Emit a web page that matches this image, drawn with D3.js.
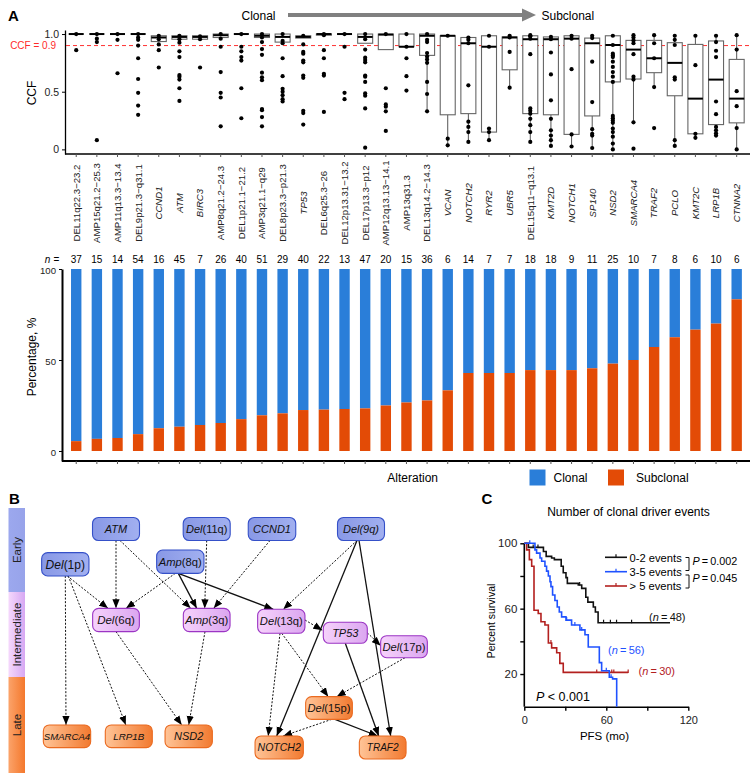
<!DOCTYPE html>
<html><head><meta charset="utf-8">
<script src="https://cdn.jsdelivr.net/npm/d3@7"></script>
<style>
body{margin:0;background:#fff}
svg{display:block;font-family:"Liberation Sans",Arial,Helvetica,sans-serif}
</style>
</head><body>
<svg id="chart" width="756" height="779"></svg>
<script>
// ---------------- DATA ----------------
const categories = ["DEL11q22.3\u221223.2","AMP15q21.2\u221225.3","AMP11q13.3\u221213.4","DEL9p21.3\u2212q31.1","CCND1","ATM","BIRC3","AMP8q21.2\u221224.3","DEL1p21.1\u221221.2","AMP3q21.1\u2212q29","DEL8p23.3\u2212p21.3","TP53","DEL6q25.3\u221226","DEL12p13.31\u221213.2","DEL17p13.3\u2212p12","AMP12q13.13\u221214.1","AMP13q31.3","DEL13q14.2\u221214.3","VCAN","NOTCH2","RYR2","UBR5","DEL15q11\u2212q13.1","KMT2D","NOTCH1","SP140","NSD2","SMARCA4","TRAF2","PCLO","KMT2C","LRP1B","CTNNA2"];
const nCounts = [37,15,14,54,16,45,7,26,40,51,29,40,22,13,47,20,15,36,6,14,7,7,18,18,9,11,25,10,7,8,6,10,6];
const subclonalCounts = [2,1,1,5,2,6,1,4,7,10,6,9,5,3,11,5,4,10,2,6,3,3,8,8,4,5,12,5,4,5,4,7,5];

const boxQ1     = [1,1,1,1,.935,.955,.955,.97,1,.97,.93,.965,.99,1,.92,.865,.89,.815,.30,.31,.15,.69,.31,.30,.13,.29,.585,.61,.665,.465,.135,.215,.23];
const boxMedian = [1,1,1,1,.97,.975,.975,.99,1,.985,.975,.975,1,1,.975,.995,.89,.985,.985,.92,.89,.97,.955,.955,.96,.92,.905,.865,.79,.75,.44,.605,.44];
const boxQ3     = [1,1,1,1,.985,.985,.985,1,1,1,1,.985,1,1,1,1,1,1,.985,.97,.985,.975,.985,.975,.985,.965,.985,.945,.945,.925,.91,.94,.78];
const whiskerLow  = [1,1,1,1,.935,.955,.955,.97,1,.97,.93,.965,.99,1,.92,.865,.89,.33,.035,.065,.08,.535,.065,.03,.025,.012,0,.235,.54,.03,.10,.12,0];
const whiskerHigh = [1,1,1,1,.985,.985,.985,1,1,1,1,.985,1,1,1,1,1,1,.985,.97,.985,.985,.99,.975,.985,.985,.985,.99,.99,.985,.985,.985,.99];
const ccfPoints = [
  [1,.86],
  [1,.96,.93,.08],
  [1,.95,.66],
  [1,.97,.95,.9,.79,.61,.49,.38,.3],
  [.985,.955,.91,.86,.71],
  [.985,.955,.925,.85,.8,.645,.63,.605,.53,.42],
  [.98,.955,.71],
  [1,.96,.89,.67,.49,.45,.2],
  [1,.89,.85,.8,.77,.53,.27],
  [1,.97,.93,.87,.82,.665,.625,.6,.35,.34,.28,.2],
  [1,.94,.92,.79,.635,.525,.5,.47,.435,.415],
  [.985,.91,.845,.83,.77,.755,.64,.62,.335,.315,.215],
  [1,.99,.86,.79,.655,.64,.325],
  [1,.89,.49,.435],
  [1,.955,.865,.795,.775,.755,.64,.63,.585,.485,.465,.355,.015],
  [1,.53,.39,.37,.33,.16],
  [1,.89,.79,.635,.51],
  [1,.95,.93,.835,.805,.78,.75,.585,.48,.33],
  [.985,.093,.035],
  [.97,.95,.92,.555,.24,.195,.15,.065],
  [.985,.89,.18,.15,.08],
  [.985,.97,.845,.535],
  [.99,.98,.96,.825,.355,.335,.31,.265,.21,.15,.065],
  [.975,.955,.84,.65,.425,.265,.165,.12,.08,.03],
  [.985,.96,.695,.13,.025],
  [.985,.965,.76,.41,.175,.135,.12,.012],
  [.985,.905,.83,.815,.80,.76,.715,.67,.63,.585,.29,.27,.25,.23,.18,.15,.11,.05,0],
  [.99,.97,.945,.92,.825,.63,.605,.235,.006],
  [.99,.92,.79,.54,.185],
  [.985,.95,.905,.625,.605,.08,.03],
  [.985,.73,.135,.10],
  [.985,.93,.855,.80,.415,.305,.195,.165,.14,.12],
  [.99,.865,.505,.375,.185,0]
];
const ccfThreshold = 0.9;
const ccfTicks = [0, 0.5, 1];
const pctTicks = [0, 50, 100];
const legendA = ["Clonal","Subclonal"];

// Panel B
const stageNames = ["Early","Intermediate","Late"];
const nodeNames  = ["ATM","Del(11q)","CCND1","Del(9q)","Del(1p)","Amp(8q)","Del(6q)","Amp(3q)","Del(13q)","TP53","Del(17p)","Del(15p)","NOTCH2","TRAF2","SMARCA4","LRP1B","NSD2"];
const nodeStages = [0,0,0,0,0,0,1,1,1,1,1,2,2,2,2,2,2];
const edgeSources = ["Del(1p)","Del(1p)","Del(1p)","ATM","ATM","Del(11q)","CCND1","Amp(8q)","Amp(8q)","Amp(8q)","Del(9q)","Del(9q)","Del(9q)","Del(6q)","Amp(3q)","Del(13q)","Del(13q)","Del(13q)","TP53","TP53","Del(17p)","Del(15p)","Del(15p)"];
const edgeTargets = ["Del(6q)","SMARCA4","LRP1B","Del(6q)","Amp(3q)","Amp(3q)","Amp(3q)","Del(6q)","Amp(3q)","Del(13q)","Del(13q)","NOTCH2","TRAF2","NSD2","NSD2","TP53","NOTCH2","Del(15p)","Del(17p)","TRAF2","Del(15p)","NOTCH2","TRAF2"];
const edgeTypes   = ["dotted","dotted","dotted","dotted","dotted","dotted","dotted","dotted","solid","solid","dotted","solid","solid","dotted","dotted","dotted","dotted","dotted","dotted","solid","dotted","dotted","solid"];

// Panel C
const kmGroups = ["0-2 events","3-5 events","> 5 events"];
const kmN = [48,56,30];
const kmTimes0 = [0,3,14,16,20,22,27,28.5,30.5,31.5,39.5,42,45,46.5,50.5,52,54];
const kmSurv0  = [100,97.5,95,92,91,90,86,82,79,75.5,74.5,72.4,67,64,61,58,51.4];
const kmEnd0 = 106.6;
const kmCens0 = [6.5,10,40.5,58,63,67.5,78.5];
const kmTimes1 = [0,7.8,9,11.5,12.7,15.1,16.3,17.6,18.8,19.5,20.7,22.4,24.1,25.6,27.3,30.5,34.6,40.7,44.4,46.8,54.9,56.6,62.2,64.6,67.6];
const kmSurv1  = [100,96,94,91,89,86,83,80,76.5,73.5,68.4,65,61,58,55,53,50,47,44,36.5,27,22,18,17,0];
const kmEnd1 = 67.6;
const kmCens1 = [4,31,37,42,60,63.5];
const kmTimes2 = [0,1.7,3.7,5.4,7.1,10.2,12.2,15.1,17.6,20,23.7,26,28.5];
const kmSurv2  = [100,96,90,86,59,57,52,50,39,36,33,26.5,21];
const kmEnd2 = 76;
const kmCens2 = [19.5,53,64,65.5,76];
const kmPairP = ["0.002","0.045"];
const kmOverallP = "< 0.001";
const kmXTicks = [0,30,60,90,120];
const kmXLabels = [0,60,120];
const kmYTicks = [20,40,60,80,100];
const kmYLabels = [20,60,100];

// ---------------- STYLE / LAYOUT ----------------
const C_BLUE = "#2a7ed9", C_ORANGE = "#e34b06";
const kmColors = ["#111111","#1f52ff","#b3201f"];
const FONT = '"Liberation Sans",Arial,sans-serif';
const svg = d3.select("#chart");
const defs = svg.append("defs");

// ============ PANEL A ============
const x = d3.scaleBand().domain(categories).range([65.9, 747]).padding(0);
const cx = c => x(c) + x.bandwidth()/2;

svg.append("text").attr("x",8).attr("y",21).attr("font-size",15).attr("font-weight","bold").text("A");

// Clonal -> Subclonal arrow
svg.append("text").attr("x",241.5).attr("y",20).attr("font-size",12).text("Clonal");
svg.append("line").attr("x1",288).attr("x2",523).attr("y1",15).attr("y2",15).attr("stroke","#808080").attr("stroke-width",4);
svg.append("path").attr("d","M522,8.5L536,15L522,21.5Z").attr("fill","#808080");
svg.append("text").attr("x",541.5).attr("y",20).attr("font-size",12).text("Subclonal");

// Box plot
const yB = d3.scaleLinear().domain([-0.04, 1.035]).range([154, 30]);
const gBox = svg.append("g");
const yAxisB = d3.axisLeft(yB).tickValues(ccfTicks).tickSize(3).tickSizeOuter(0)
  .tickFormat(d => d === 0 ? "0" : d3.format(".1f")(d));
gBox.append("g").attr("transform","translate(65,0)").call(yAxisB)
  .call(g => { g.select(".domain").attr("stroke-width",1.3);
    g.selectAll("text").attr("font-size",10.5).attr("font-family",FONT).attr("fill","#222"); });
const xAxisB = d3.axisBottom(x).tickSize(3).tickSizeOuter(0).tickFormat("");
gBox.append("g").attr("transform","translate(0,154)").call(xAxisB)
  .call(g => { g.select(".domain").attr("d","M65,0H750").attr("stroke-width",1.5); g.selectAll(".tick line").attr("stroke","#555"); });
gBox.append("text").attr("transform","translate(36,93) rotate(-90)").attr("text-anchor","middle").attr("font-size",12).text("CCF");

// threshold line
gBox.append("line").attr("x1",66).attr("x2",750).attr("y1",yB(ccfThreshold)).attr("y2",yB(ccfThreshold))
  .attr("stroke","#ff3030").attr("stroke-width",1).attr("stroke-dasharray","4,3");
gBox.append("text").attr("x",56).attr("y",yB(ccfThreshold)+3.5).attr("text-anchor","end").attr("font-size",10).attr("fill","#ff2a2a").text("CCF = 0.9");

const BW = 15;
categories.forEach((c,i) => {
  const g = gBox.append("g");
  const xc = cx(c);
  if (whiskerLow[i] < boxQ1[i]) g.append("line").attr("x1",xc).attr("x2",xc).attr("y1",yB(boxQ1[i])).attr("y2",yB(whiskerLow[i])).attr("stroke","#555").attr("stroke-width",1);
  if (whiskerHigh[i] > boxQ3[i]) g.append("line").attr("x1",xc).attr("x2",xc).attr("y1",yB(boxQ3[i])).attr("y2",yB(whiskerHigh[i])).attr("stroke","#555").attr("stroke-width",1);
  const h = yB(boxQ1[i]) - yB(boxQ3[i]);
  if (h > 0.5) g.append("rect").attr("x",xc-BW/2).attr("y",yB(boxQ3[i])).attr("width",BW).attr("height",h)
    .attr("fill","#fff").attr("stroke","#666").attr("stroke-width",1.1);
  g.append("line").attr("x1",xc-BW/2).attr("x2",xc+BW/2).attr("y1",yB(boxMedian[i])).attr("y2",yB(boxMedian[i]))
    .attr("stroke","#000").attr("stroke-width",2);
  g.selectAll("circle").data(ccfPoints[i]).join("circle").attr("cx",xc).attr("cy",d=>yB(d)).attr("r",2.1).attr("fill","#000");
});

// category labels
categories.forEach(c => {
  const gene = !/^(DEL|AMP)/.test(c);
  svg.append("text").attr("transform",`translate(${cx(c)},203) rotate(-90)`)
    .attr("text-anchor","middle").attr("dy","0.35em").attr("font-size",9.6)
    .attr("font-style", gene ? "italic" : "normal").attr("fill","#222").text(c);
});

// n = row
svg.append("text").attr("x",47.5).attr("y",263.2).attr("text-anchor","middle").attr("font-size",10).attr("font-style","italic").text("n");
svg.append("text").attr("x",56.5).attr("y",263.2).attr("text-anchor","middle").attr("font-size",10).text("=");
categories.forEach((c,i) => {
  svg.append("text").attr("x",cx(c)).attr("y",263.2).attr("text-anchor","middle").attr("font-size",10).text(nCounts[i]);
});

// stacked bars
const yP = d3.scaleLinear().domain([-5.5, 100]).range([461, 269]);
const gBar = svg.append("g");
const BAR = 10.4;
categories.forEach((c,i) => {
  const pct = subclonalCounts[i] / nCounts[i] * 100;
  gBar.append("rect").attr("x",cx(c)-BAR/2).attr("y",yP(100)).attr("width",BAR).attr("height",yP(pct)-yP(100)).attr("fill",C_BLUE);
  gBar.append("rect").attr("x",cx(c)-BAR/2).attr("y",yP(pct)).attr("width",BAR).attr("height",yP(0)-yP(pct)).attr("fill",C_ORANGE);
});
gBar.append("g").attr("transform","translate(62,0)").call(d3.axisLeft(yP).tickValues(pctTicks).tickSize(3).tickSizeOuter(0))
  .call(g => { g.select(".domain").attr("stroke-width",2);
    g.selectAll("text").attr("font-size",9.6).attr("font-family",FONT).attr("fill","#222").attr("dy","0.5em"); });
gBar.append("g").attr("transform","translate(0,461)").call(d3.axisBottom(x).tickSize(3).tickSizeOuter(0).tickFormat(""))
  .call(g => { g.select(".domain").attr("d","M62,0H750").attr("stroke-width",2); g.selectAll(".tick line").attr("stroke","#555"); });
gBar.append("text").attr("transform","translate(36,357) rotate(-90)").attr("text-anchor","middle").attr("font-size",12).text("Percentage, %");
gBar.append("text").attr("x",387.3).attr("y",482).attr("font-size",12).text("Alteration");
[[529.5,C_BLUE,553.5],[608,C_ORANGE,636]].forEach((L,k) => {
  gBar.append("rect").attr("x",L[0]).attr("y",469.5).attr("width",16).attr("height",16).attr("fill",L[1]);
  gBar.append("text").attr("x",L[2]).attr("y",482).attr("font-size",12).text(legendA[k]);
});

// ============ PANEL B ============
svg.append("text").attr("x",9).attr("y",504).attr("font-size",15).attr("font-weight","bold").text("B");

function grad(id, c1, c2){
  const g = defs.append("linearGradient").attr("id",id).attr("x1","0%").attr("x2","100%").attr("y1","0%").attr("y2","0%");
  g.append("stop").attr("offset","0%").attr("stop-color",c1);
  g.append("stop").attr("offset","100%").attr("stop-color",c2);
}
grad("stripE","#9ca8ee","#97a3ea");
grad("stripI","#f5d8fc","#d7a8f3");
grad("stripL","#fba36a","#f4782c");
grad("nodeE","#8898e6","#a2b0f0");
grad("nodeI","#f6d2fb","#dba6f0");
grad("nodeL","#ffc497","#f27a30");
const stripBands = [[508,592,"stripE"],[592,677,"stripI"],[677,773,"stripL"]];
stripBands.forEach((b,k) => {
  svg.append("rect").attr("x",8.5).attr("y",b[0]).attr("width",16.5).attr("height",b[1]-b[0]).attr("fill",`url(#${b[2]})`);
  svg.append("text").attr("transform",`translate(16.8,${(b[0]+b[1])/2}) rotate(-90)`).attr("text-anchor","middle")
    .attr("dy","0.35em").attr("font-size",11.5).attr("fill","#222").text(stageNames[k]);
});

// node layout [cx, cy, w, h, fontSize]
const nodeLayout = {
  "ATM":[116,529,47,23,11], "Del(11q)":[206.7,529,47,23,11], "CCND1":[272,529,47.5,23,11], "Del(9q)":[361,529,47,23,11],
  "Del(1p)":[65.3,564.3,47.3,23.3,12], "Amp(8q)":[180.3,561.7,47.3,23.3,11.2],
  "Del(6q)":[116,620,46.7,23.3,11.5], "Amp(3q)":[206.7,620,46.7,23.3,11.2], "Del(13q)":[281.3,621.3,47.3,24,11.2],
  "TP53":[345.3,632.8,44,21,11], "Del(17p)":[404,646.7,46.7,22,11.2],
  "Del(15p)":[329,708,46.7,22.7,11.2], "NOTCH2":[279.2,747.5,48.3,23,10.5], "TRAF2":[382.7,747.5,46.7,23,10],
  "SMARCA4":[67,736.3,47.3,22.7,9.6], "LRP1B":[128.8,736.3,47,22.7,9.8], "NSD2":[188.7,736.3,47.3,22.7,11]
};
// edge anchor offsets [sdx, sdy, tdx, tdy]; null -> bottom / top
const edgeAnchor = [
  [2,null,-8,null],[0,null,-1,null],[3,null,-3,null],[0,null,0,null],[4,null,-16,null],[0,null,-2,null],
  [-2,null,7,null],[-5,null,10,null],[-2,null,-10,null],[-2,null,-8,null],[-4,null,2,null],[-4,null,-2.5,null],
  [-2,null,8,null],[0,null,-7,null],[-1.7,null,0,null],[23.7,-1.3,-23,-2.5],[-1.3,null,-11,null],[0.4,null,-0.7,null],
  [22,0,-23.3,-1],[0,null,-4,null],[1,null,7.7,null],[2.7,null,4,null],[6,null,-5,null]
];
defs.append("marker").attr("id","arr").attr("viewBox","0 -4 9 8").attr("refX",9).attr("refY",0)
  .attr("markerWidth",9).attr("markerHeight",8).attr("markerUnits","userSpaceOnUse").attr("orient","auto")
  .append("path").attr("d","M0,-3.6L9,0L0,3.6Z").attr("fill","#000");

const gEdges = svg.append("g");
edgeSources.forEach((s,i) => {
  const S = nodeLayout[s], T = nodeLayout[edgeTargets[i]], a = edgeAnchor[i];
  const x1 = S[0]+a[0], y1 = S[1] + (a[1]===null ? S[3]/2 : a[1]);
  const x2 = T[0]+a[2], y2 = T[1] + (a[3]===null ? -T[3]/2 : a[3]);
  gEdges.append("line").attr("x1",x1).attr("y1",y1).attr("x2",x2).attr("y2",y2)
    .attr("stroke","#111").attr("stroke-width", edgeTypes[i]==="solid" ? 1.3 : 1)
    .attr("stroke-dasharray", edgeTypes[i]==="solid" ? null : "2,1.6")
    .attr("marker-end","url(#arr)");
});

const nodeStroke = ["#3550c8","#9b35c4","#ea6a20"];
const nodeFill = ["nodeE","nodeI","nodeL"];
nodeNames.forEach((nm,i) => {
  const L = nodeLayout[nm], st = nodeStages[i];
  svg.append("rect").attr("x",L[0]-L[2]/2).attr("y",L[1]-L[3]/2).attr("width",L[2]).attr("height",L[3])
    .attr("rx",6).attr("fill",`url(#${nodeFill[st]})`).attr("stroke",nodeStroke[st]).attr("stroke-width",1.1);
  const t = svg.append("text").attr("x",L[0]).attr("y",L[1]).attr("dy","0.36em").attr("text-anchor","middle")
    .attr("font-size",L[4]).attr("fill","#111");
  const m = nm.match(/^(Del|Amp)(\(.*\))$/);
  if (m && nm !== "Del(9q)") { t.append("tspan").attr("font-style","italic").text(m[1]); t.append("tspan").text(m[2]); }
  else t.attr("font-style","italic").text(nm);
});

// ============ PANEL C ============
svg.append("text").attr("x",481.5).attr("y",504).attr("font-size",15).attr("font-weight","bold").text("C");
svg.append("text").attr("x",628.5).attr("y",516).attr("text-anchor","middle").attr("font-size",12).text("Number of clonal driver events");

const xK = d3.scaleLinear().domain([0,120]).range([524.3, 688.3]);
const yK = d3.scaleLinear().domain([0,100]).range([706.7, 543.3]);
const gK = svg.append("g");
gK.append("g").attr("transform","translate(524.3,0)").call(d3.axisLeft(yK).tickValues(kmYTicks).tickSize(4).tickSizeOuter(0)
  .tickFormat(d => kmYLabels.includes(d) ? d : ""))
  .call(g => { g.select(".domain").attr("d","M0,543.3V706.7").attr("stroke-width",1.6);
    g.selectAll("line").attr("stroke-width",1.4);
    g.selectAll("text").attr("font-size",11.5).attr("font-family",FONT).attr("fill","#222"); });
gK.append("g").attr("transform","translate(0,706.7)").call(d3.axisBottom(xK).tickValues(kmXTicks).tickSize(4).tickSizeOuter(0)
  .tickFormat(d => kmXLabels.includes(d) ? d : ""))
  .call(g => { g.select(".domain").attr("stroke-width",1.6);
    g.selectAll("line").attr("stroke-width",1.4);
    g.selectAll("text").attr("font-size",11).attr("font-family",FONT).attr("fill","#222").attr("dy","0.9em"); });
gK.append("text").attr("transform","translate(495,621) rotate(-90)").attr("text-anchor","middle").attr("font-size",10.5).text("Percent survival");
gK.append("text").attr("x",604.5).attr("y",739.5).attr("text-anchor","middle").attr("font-size",11.5).text("PFS (mo)");

const kmData = [[kmTimes0,kmSurv0,kmEnd0,kmCens0],[kmTimes1,kmSurv1,kmEnd1,kmCens1],[kmTimes2,kmSurv2,kmEnd2,kmCens2]];
const stepLine = d3.line().x(d=>xK(d[0])).y(d=>yK(d[1])).curve(d3.curveStepAfter);
const survAt = (T,S,t) => { let v = S[0]; T.forEach((tt,j)=>{ if (tt <= t) v = S[j]; }); return v; };
[0,2,1].forEach(k => {
  const [T,S,E,Cn] = kmData[k];
  const pts = T.map((t,j)=>[t,S[j]]);
  if (E > T[T.length-1]) pts.push([E, S[S.length-1]]);
  gK.append("path").attr("d",stepLine(pts)).attr("fill","none").attr("stroke",kmColors[k]).attr("stroke-width",1.6);
  Cn.forEach(t => {
    const v = survAt(T,S,t);
    gK.append("line").attr("x1",xK(t)).attr("x2",xK(t)).attr("y1",yK(v)-3).attr("y2",yK(v)+0.5).attr("stroke",kmColors[k]).attr("stroke-width",1.2);
  });
});

// legend
const legY = [557.3, 571.7, 586];
kmGroups.forEach((gname,k) => {
  gK.append("line").attr("x1",605).attr("x2",627).attr("y1",legY[k]).attr("y2",legY[k]).attr("stroke",kmColors[k]).attr("stroke-width",1.6);
  gK.append("line").attr("x1",616).attr("x2",616).attr("y1",legY[k]-3).attr("y2",legY[k]).attr("stroke",kmColors[k]).attr("stroke-width",1.2);
  gK.append("text").attr("x",629.5).attr("y",legY[k]+4.2).attr("font-size",11.2).text(gname);
});
[[557.5,570.5,565],[575,588,581.5]].forEach((b,k) => {
  gK.append("path").attr("d",`M685.5,${b[0]}H689V${b[1]}H685.5`).attr("fill","none").attr("stroke","#111").attr("stroke-width",1);
  const t = gK.append("text").attr("x",692.5).attr("y",b[2]).attr("font-size",10.8);
  t.append("tspan").attr("font-style","italic").text("P");
  t.append("tspan").text("\u2009=\u2009" + kmPairP[k]);
});
const nLab = [[649,621,0],[608,654,1],[638.5,675,2]];
nLab.forEach(L => {
  const t = gK.append("text").attr("x",L[0]).attr("y",L[1]).attr("font-size",11).attr("fill",kmColors[L[2]]);
  t.append("tspan").text("(");
  t.append("tspan").attr("font-style","italic").text("n");
  t.append("tspan").text("\u2009=\u2009" + kmN[L[2]] + ")");
});
const pt = gK.append("text").attr("x",536).attr("y",701).attr("font-size",12.5);
pt.append("tspan").attr("font-style","italic").text("P");
pt.append("tspan").text(" " + kmOverallP);
</script>
</body></html>
